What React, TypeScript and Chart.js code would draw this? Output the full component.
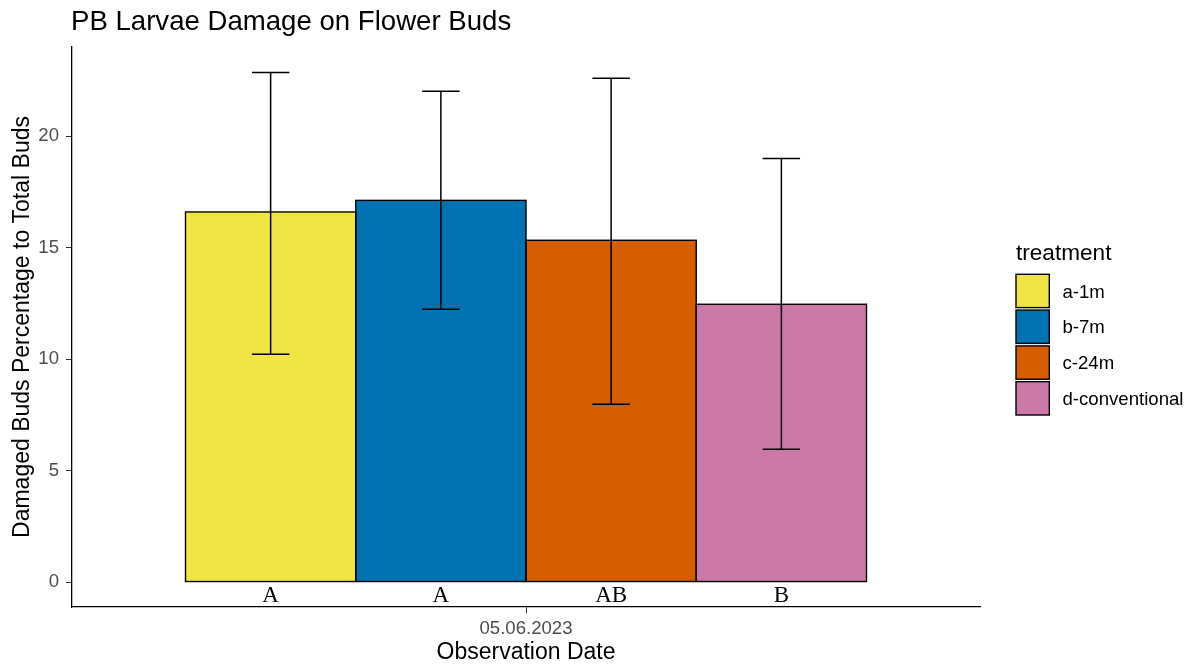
import React, { useEffect, useRef } from 'react';
import { Chart, registerables } from 'chart.js';

Chart.register(...registerables);

// ---- data ----
const categories = ['05.06.2023'];
const treatments = ['a-1m', 'b-7m', 'c-24m', 'd-conventional'];
const meanValues = [16.6, 17.12, 15.33, 12.46];
const lowerValues = [10.22, 12.24, 7.98, 5.96];
const upperValues = [22.86, 22.02, 22.6, 19.0];
const groupLetters = ['A', 'A', 'AB', 'B'];
const fillColors = ['#F0E442', '#0072B2', '#D55E00', '#CC79A7'];
const yTickValues = [0, 5, 10, 15, 20];

const chartTitle = 'PB Larvae Damage on Flower Buds';
const xTitle = 'Observation Date';
const yTitle = 'Damaged Buds Percentage to Total Buds';
const legendTitle = 'treatment';

const SANS = '"Liberation Sans", Arial, sans-serif';

const overlayPlugin = {
  id: 'overlay',
  afterDatasetsDraw(chart: any) {
    const ctx = chart.ctx;
    const y = chart.scales.y;
    ctx.save();
    // bar outlines
    ctx.strokeStyle = '#000';
    ctx.lineWidth = 1.4;
    treatments.forEach((_, i) => {
      const bar = chart.getDatasetMeta(i).data[0];
      const w = bar.width;
      ctx.strokeRect(bar.x - w / 2, bar.y, w, bar.base - bar.y);
    });
    // error bars
    ctx.lineWidth = 1.5;
    treatments.forEach((_, i) => {
      const bar = chart.getDatasetMeta(i).data[0];
      const cx = bar.x;
      const half = bar.width * 0.11;
      const yt = y.getPixelForValue(upperValues[i]);
      const yb = y.getPixelForValue(lowerValues[i]);
      ctx.beginPath();
      ctx.moveTo(cx, yt);
      ctx.lineTo(cx, yb);
      ctx.moveTo(cx - half, yt);
      ctx.lineTo(cx + half, yt);
      ctx.moveTo(cx - half, yb);
      ctx.lineTo(cx + half, yb);
      ctx.stroke();
    });
    // letters
    ctx.fillStyle = '#000';
    ctx.font = '23px "Liberation Serif", "Times New Roman", serif';
    ctx.textAlign = 'center';
    ctx.textBaseline = 'middle';
    treatments.forEach((_, i) => {
      const bar = chart.getDatasetMeta(i).data[0];
      ctx.fillText(groupLetters[i], bar.x, y.getPixelForValue(-0.63));
    });
    ctx.restore();
  },
  afterDraw(chart: any) {
    const ctx = chart.ctx;
    ctx.save();
    // title
    ctx.fillStyle = '#000';
    ctx.font = `27.6px ${SANS}`;
    ctx.textAlign = 'left';
    ctx.textBaseline = 'alphabetic';
    ctx.fillText(chartTitle, 71, 30);
    // legend
    const lx = 1016;
    ctx.font = `22.6px ${SANS}`;
    ctx.fillText(legendTitle, lx, 259.5);
    const boxSize = 33.3;
    const pitch = 35.8;
    const top0 = 274.3;
    ctx.font = `18.6px ${SANS}`;
    ctx.textBaseline = 'middle';
    treatments.forEach((t, i) => {
      const by = top0 + i * pitch;
      ctx.fillStyle = fillColors[i];
      ctx.fillRect(lx, by, boxSize, boxSize);
      ctx.strokeStyle = '#000';
      ctx.lineWidth = 1.4;
      ctx.strokeRect(lx, by, boxSize, boxSize);
      ctx.fillStyle = '#000';
      ctx.fillText(t, 1062.5, by + boxSize / 2 + 1.5);
    });
    ctx.restore();
  },
};

export default function App() {
  const canvasRef = useRef<HTMLCanvasElement | null>(null);

  useEffect(() => {
    document.body.style.margin = '0';
    const canvas = canvasRef.current;
    if (!canvas) return;
    const chart = new Chart(canvas, {
      type: 'bar',
      data: {
        labels: categories,
        datasets: treatments.map((t, i) => ({
          label: t,
          data: [meanValues[i]],
          backgroundColor: fillColors[i],
          borderWidth: 0,
          categoryPercentage: 0.75,
          barPercentage: 1.0,
        })),
      },
      options: {
        responsive: false,
        animation: false,
        devicePixelRatio: 1,
        layout: { padding: { top: 47, right: 216, bottom: 0, left: 0 } },
        plugins: {
          legend: { display: false },
          tooltip: { enabled: false },
          title: { display: false },
        },
        scales: {
          x: {
            type: 'category',
            offset: true,
            grid: {
              display: true,
              drawOnChartArea: false,
              drawTicks: true,
              tickLength: 6,
              color: '#333333',
              offset: false,
            },
            border: { display: true, color: '#000', width: 1.3 },
            ticks: {
              color: '#4D4D4D',
              font: { family: SANS, size: 18.6 },
              padding: 5,
              maxRotation: 0,
            },
            title: {
              display: true,
              text: xTitle,
              color: '#000',
              font: { family: SANS, size: 23 },
              padding: { top: 0, bottom: 2 },
            },
            afterFit(scale: any) {
              scale.height = 61;
            },
          },
          y: {
            type: 'linear',
            min: -1.12,
            max: 24.0,
            grid: {
              display: true,
              drawOnChartArea: false,
              drawTicks: true,
              tickLength: 6,
              color: '#333333',
            },
            border: { display: true, color: '#000', width: 1.3 },
            ticks: {
              color: '#4D4D4D',
              font: { family: SANS, size: 18.6 },
              padding: 7,
            },
            afterBuildTicks(scale: any) {
              scale.ticks = yTickValues.map((v) => ({ value: v }));
            },
            title: {
              display: true,
              text: yTitle,
              color: '#000',
              font: { family: SANS, size: 23 },
              padding: { top: 9, bottom: 0 },
            },
            afterFit(scale: any) {
              scale.width = 72;
            },
          },
        },
      },
      plugins: [overlayPlugin],
    } as any);
    return () => chart.destroy();
  }, []);

  return (
    <canvas
      ref={canvasRef}
      width={1196}
      height={668}
      style={{ display: 'block', width: 1196, height: 668 }}
    />
  );
}
